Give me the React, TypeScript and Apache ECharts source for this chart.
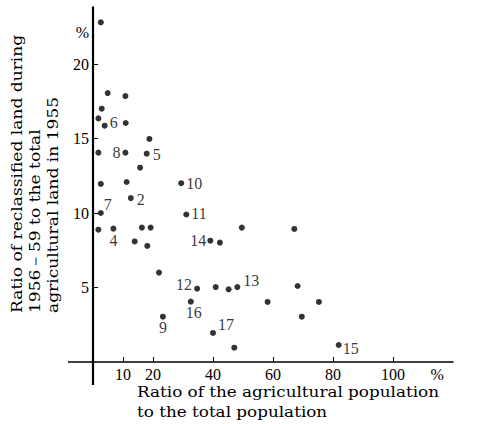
import React, { useEffect, useRef } from "react";
import * as echarts from "echarts";

// Ratio of the agricultural population (%)
const xValues = [
  2.6, 4.9, 10.8, 2.9, 1.8, 3.9, 10.9, 18.8, 1.8, 10.8, 17.9, 15.7, 2.6, 11.2,
  29.4, 12.6, 2.6, 31.1, 1.8, 6.8, 16.3, 19.2, 49.6, 13.9, 18.1, 39.1, 42.3,
  22.0, 34.7, 40.9, 45.2, 48.1, 58.2, 32.6, 23.3, 40.0, 47.1, 67.1, 68.2, 75.3,
  69.6, 81.9,
];
// Ratio of reclassified land (%)
const yValues = [
  22.8, 18.05, 17.85, 17.0, 16.35, 15.86, 16.04, 14.97, 14.05, 14.05, 13.98,
  13.04, 11.95, 12.08, 12.0, 11.0, 10.0, 9.9, 8.88, 8.95, 9.02, 9.02, 9.02,
  8.09, 7.79, 8.14, 8.01, 6.0, 4.92, 5.03, 4.88, 5.03, 4.03, 4.05, 3.04, 1.95,
  0.96, 8.93, 5.1, 4.03, 3.04, 1.14,
];
// Point numbers ("" = unnumbered)
const pointLabels = [
  "", "", "", "", "", "6", "", "", "", "8", "5", "", "", "", "10", "2", "7",
  "11", "", "4", "", "", "", "", "", "14", "", "", "12", "", "", "13", "", "16",
  "9", "17", "", "", "", "", "", "15",
];

const xTickValues = [10, 20, 40, 60, 80, 100];
const xLabelValues = [10, 20, 40, 60, 80, 100, 114.7];
const yTickValues = [5, 10, 15, 20];
const yLabelValues = [5, 10, 15, 20, 22.1];

const yTitle = "Ratio of reclassified land during\n1956－59 to the total\nagricultural land in 1955";
const xTitle = "Ratio of the agricultural population\nto the total population";

// label placement (style only)
const placement: Record<string, { position: string; distance: number; offset: [number, number] }> = {
  "6": { position: "right", distance: 2, offset: [0, -3] },
  "8": { position: "left", distance: 2, offset: [0, 0] },
  "5": { position: "right", distance: 3, offset: [0, 1] },
  "10": { position: "right", distance: 2, offset: [0, 0] },
  "2": { position: "right", distance: 3, offset: [0, 1] },
  "7": { position: "right", distance: 0, offset: [0, -9] },
  "11": { position: "right", distance: 2, offset: [0, -1] },
  "4": { position: "bottom", distance: 1, offset: [0, 0] },
  "14": { position: "left", distance: 1, offset: [0, 0] },
  "12": { position: "left", distance: 2, offset: [0, -4] },
  "13": { position: "right", distance: 3, offset: [0, -7] },
  "16": { position: "bottom", distance: 0, offset: [3, 0] },
  "9": { position: "bottom", distance: 0, offset: [0, 0] },
  "17": { position: "right", distance: 2, offset: [0, -8] },
  "15": { position: "right", distance: 1, offset: [0, 3] },
};

const SERIF = "'Liberation Serif', 'DejaVu Serif', serif";
const TITLE_FONT = "'DejaVu Serif', 'Liberation Serif', serif";

export default function App() {
  const ref = useRef<HTMLDivElement>(null);
  useEffect(() => {
    if (!ref.current) return;
    const chart = echarts.init(ref.current, null, { renderer: "svg" });
    const data = xValues.map((x, i) => {
      const lbl = pointLabels[i];
      const item: any = { value: [x, yValues[i]] };
      if (lbl) {
        const p = placement[lbl];
        item.label = {
          show: true,
          formatter: lbl,
          position: p.position,
          distance: p.distance,
          offset: p.offset,
          color: "#000",
          fontFamily: SERIF,
          fontSize: 16,
        };
      }
      return item;
    });
    chart.setOption({
      animation: false,
      backgroundColor: "#fff",
      grid: { left: 93, top: 7.38, width: 360, height: 354.62, containLabel: false },
      xAxis: {
        type: "value",
        min: 0,
        max: 120,
        splitLine: { show: false },
        axisLine: { show: true, onZero: false, lineStyle: { color: "#000", width: 1.5 } },
        axisTick: { show: true, inside: true, length: 5, customValues: xTickValues, lineStyle: { color: "#000", width: 1 } },
        axisLabel: {
          show: true,
          customValues: xLabelValues,
          margin: 4,
          color: "#000",
          fontFamily: SERIF,
          fontSize: 16,
          formatter: (v: number) => (v > 100 ? "%" : String(v)),
        },
      },
      yAxis: {
        type: "value",
        min: 0,
        max: 23.8,
        splitLine: { show: false },
        axisLine: { show: true, onZero: false, lineStyle: { color: "#000", width: 2.2 } },
        axisTick: { show: true, inside: true, length: 5, customValues: yTickValues, lineStyle: { color: "#000", width: 1 } },
        axisLabel: {
          show: true,
          customValues: yLabelValues,
          margin: 4,
          color: "#000",
          fontFamily: SERIF,
          fontSize: 16,
          formatter: (v: number) => (v > 21 ? "%" : String(v)),
        },
      },
      series: [
        {
          type: "scatter",
          symbol: "circle",
          symbolSize: 6,
          itemStyle: { color: "#000" },
          data,
        },
      ],
    });
    const o = chart.convertToPixel({ gridIndex: 0 }, [0, 0]) as number[];
    chart.setOption({
      graphic: [
        {
          type: "line",
          shape: { x1: o[0] - 25, y1: o[1], x2: o[0], y2: o[1] },
          style: { stroke: "#000", lineWidth: 1.5 },
        },
        {
          type: "line",
          shape: { x1: o[0], y1: o[1], x2: o[0], y2: o[1] + 23 },
          style: { stroke: "#000", lineWidth: 2.2 },
        },
        {
          type: "text",
          x: 9,
          y: 313,
          rotation: Math.PI / 2,
          scaleX: 1.22,
          style: {
            text: yTitle,
            fontFamily: TITLE_FONT,
            fontSize: 14,
            lineHeight: 18,
            fill: "#000",
            align: "left",
            verticalAlign: "top",
          },
        },
        {
          type: "text",
          x: 137,
          y: 382,
          scaleX: 1.2,
          style: {
            text: xTitle,
            fontFamily: TITLE_FONT,
            fontSize: 14,
            lineHeight: 20,
            fill: "#000",
            align: "left",
            verticalAlign: "top",
          },
        },
      ],
    });
    return () => chart.dispose();
  }, []);
  return (
    <div
      ref={ref}
      style={{ position: "absolute", left: 0, top: 0, width: 495, height: 424 }}
    />
  );
}
